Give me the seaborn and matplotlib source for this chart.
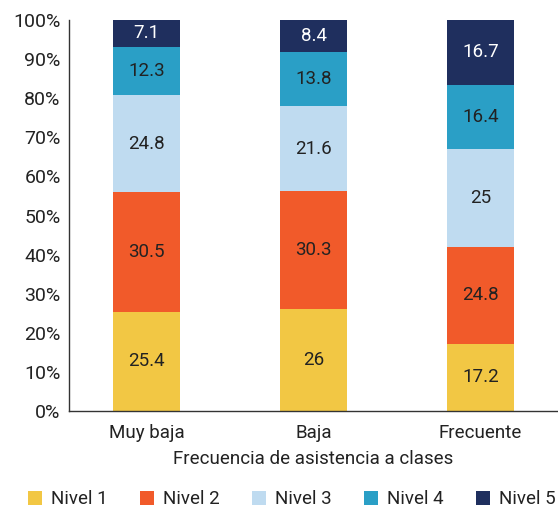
import matplotlib
matplotlib.use("Agg")
import matplotlib.pyplot as plt
import seaborn as sns
import pandas as pd
import numpy as np

categories = ["Muy baja", "Baja", "Frecuente"]
levels = ["Nivel 1", "Nivel 2", "Nivel 3", "Nivel 4", "Nivel 5"]
nivel_1 = [25.4, 26, 17.2]
nivel_2 = [30.5, 30.3, 24.8]
nivel_3 = [24.8, 21.6, 25]
nivel_4 = [12.3, 13.8, 16.4]
nivel_5 = [7.1, 8.4, 16.7]
series = [nivel_1, nivel_2, nivel_3, nivel_4, nivel_5]
colors = ["#F2C744", "#F15A2A", "#BFDBF0", "#2A9FC6", "#1F2F5E"]
text_colors = ["#222222", "#222222", "#222222", "#222222", "#FFFFFF"]

sns.set_theme(style="white")
plt.rcParams["font.family"] = ["Roboto", "DejaVu Sans"]

fig = plt.figure(figsize=(5.58, 5.09), dpi=100)
ax = fig.add_axes([0.1237, 0.1925, 0.8763, 0.7682])

bottom = np.zeros(len(categories))
for name, vals, col, tcol in zip(levels, series, colors, text_colors):
    df = pd.DataFrame({"cat": categories, "val": vals})
    sns.barplot(data=df, x="cat", y="val", color=col, width=0.4,
                bottom=bottom, ax=ax, label=name, saturation=1,
                linewidth=0)
    for i, v in enumerate(vals):
        ax.text(i, bottom[i] + v / 2, f"{v:g}", ha="center", va="center",
                fontsize=13.5, color=tcol)
    bottom = bottom + np.array(vals)

ax.set_ylim(0, 100)
ax.set_xlim(-0.464, 2.464)
ax.set_yticks(range(0, 101, 10))
ax.set_yticklabels([f"{t}%" for t in range(0, 101, 10)])
ax.tick_params(axis="y", length=0, labelsize=14, colors="#222222", pad=6)
ax.tick_params(axis="x", length=0, labelsize=13.5, colors="#222222", pad=9)
ax.set_xlabel("Frecuencia de asistencia a clases", fontsize=13.5,
              color="#222222", labelpad=6)
ax.set_ylabel("")
for s in ["top", "right"]:
    ax.spines[s].set_visible(False)
for s in ["left", "bottom"]:
    ax.spines[s].set_color("#333333")
    ax.spines[s].set_linewidth(1)

handles, labels = ax.get_legend_handles_labels()
ax.legend(handles, labels, loc="center", bbox_to_anchor=(0.523, 0.019),
          bbox_transform=fig.transFigure,
          ncol=5, frameon=False, fontsize=13.5, handlelength=0.75,
          handleheight=0.75, handletextpad=0.45, columnspacing=1.75,
          borderpad=0, labelcolor="#222222")

fig.savefig("out.png", dpi=100)
